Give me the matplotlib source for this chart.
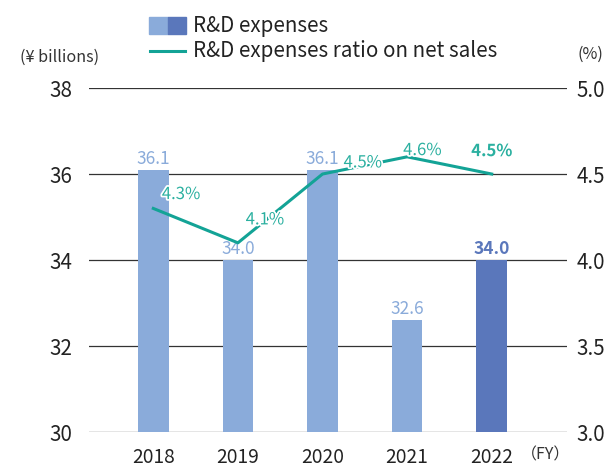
import matplotlib.pyplot as plt
from matplotlib.patches import Rectangle
from matplotlib.lines import Line2D
import matplotlib.patheffects as pe

plt.rcParams['font.family'] = ['Noto Sans CJK JP', 'DejaVu Sans']

years = ['2018', '2019', '2020', '2021', '2022']
expenses = [36.1, 34.0, 36.1, 32.6, 34.0]
ratio = [4.3, 4.1, 4.5, 4.6, 4.5]
expense_labels = ['36.1', '34.0', '36.1', '32.6', '34.0']
ratio_labels = ['4.3%', '4.1%', '4.5%', '4.6%', '4.5%']

light_blue = '#8aabda'
dark_blue = '#5a77bb'
teal = '#13a396'
teal_text = '#2bb0a0'
grid_col = '#333333'
text_col = '#222222'

fig = plt.figure(figsize=(6.08, 4.67), dpi=100)
ax = fig.add_axes([0.1464, 0.0749, 0.7862, 0.7366])
ax2 = ax.twinx()

x = list(range(len(years)))
colors = [light_blue] * 4 + [dark_blue]
ax.bar(x, [e - 30 for e in expenses], bottom=30, width=0.36, color=colors, zorder=2)
ax.set_ylim(30, 38)
ax.set_xlim(-0.76, 4.89)
ax.set_yticks([30, 32, 34, 36, 38])
for yv in [30, 32, 34, 36, 38]:
    ax.axhline(yv, color=grid_col, lw=0.9, zorder=1)

# bar value labels
for i, (v, lab) in enumerate(zip(expenses, expense_labels)):
    last = i == len(years) - 1
    ax.annotate(lab, (i, v), xytext=(0, 8), textcoords='offset points',
                ha='center', va='center', fontsize=12.5,
                color=dark_blue if last else light_blue,
                fontweight='bold' if last else 'normal', zorder=3)

ax2.set_ylim(3.0, 5.0)
ax2.set_yticks([3.0, 3.5, 4.0, 4.5, 5.0])
ax2.plot(x, ratio, color=teal, lw=2.2, zorder=4)

# ratio labels (offsets in points)
offsets = [(20, 10), (19.5, 16.5), (29, 8), (11, 4.5), (0, 16.5)]
for i, (v, lab) in enumerate(zip(ratio, ratio_labels)):
    last = i == len(years) - 1
    ax2.annotate(lab, (i, v), xytext=offsets[i], textcoords='offset points',
                 ha='center', va='center', fontsize=12, color=teal_text,
                 fontweight='bold' if last else 'normal', zorder=5,
                 path_effects=[pe.withStroke(linewidth=2.5, foreground='white')])

for a in (ax, ax2):
    for s in a.spines.values():
        s.set_visible(False)
    a.tick_params(length=0, labelsize=14.8, colors=text_col)
ax.tick_params(axis='y', pad=12)
ax2.tick_params(axis='y', pad=7)
ax.set_xticks(x)
ax.set_xticklabels(years, fontsize=13.8)
ax.tick_params(axis='x', pad=11)

fig.text(0.033, 0.878, '(¥ billions)', fontsize=11.6, color='#333333', va='center')
fig.text(0.950, 0.884, '(%)', fontsize=11.6, color='#333333', va='center')
fig.text(0.857, 0.026, '（FY）', fontsize=11.5, color='#333333', va='center')

# legend
fig.patches.append(Rectangle((0.245, 0.927), 0.0305, 0.0364, transform=fig.transFigure,
                             color=light_blue))
fig.patches.append(Rectangle((0.2755, 0.927), 0.0305, 0.0364, transform=fig.transFigure,
                             color=dark_blue))
fig.text(0.317, 0.944, 'R&D expenses', fontsize=14.8, color=text_col, va='center')
fig.lines.append(Line2D([0.2467, 0.3043], [0.891, 0.891], transform=fig.transFigure,
                        color=teal, lw=2.2))
fig.text(0.317, 0.891, 'R&D expenses ratio on net sales', fontsize=14.8, color=text_col,
         va='center')

fig.savefig('out.png', dpi=100)
